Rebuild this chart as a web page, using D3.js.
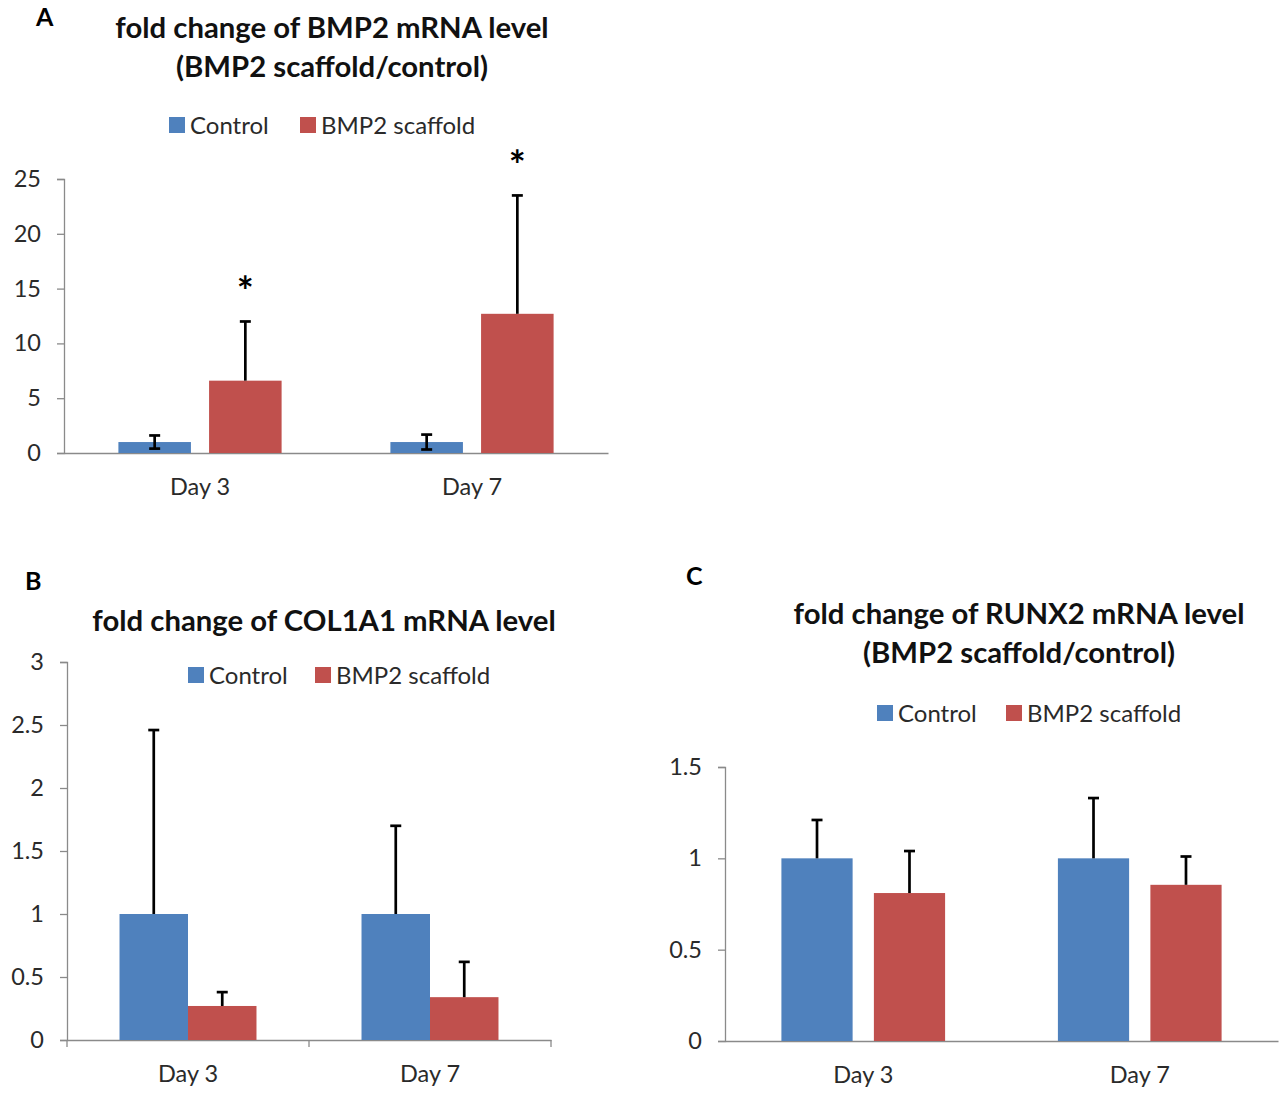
<!DOCTYPE html>
<html><head><meta charset="utf-8">
<script src="https://cdn.jsdelivr.net/npm/d3@7"></script>
<style>
html,body{margin:0;padding:0;background:#fff;}
svg{display:block;}
text{font-family:Lato,"Open Sans",sans-serif;}
</style></head>
<body>
<script>
// ---- data ----
const categories = ["Day 3", "Day 7"];
const seriesNames = ["Control", "BMP2 scaffold"];
const seriesColors = ["#4F81BD", "#C0504D"];

const bmp2Control = [1.0, 1.0];
const bmp2ControlErr = [0.6, 0.68];
const bmp2Scaffold = [6.6, 12.7];
const bmp2ScaffoldErr = [5.4, 10.8];
const bmp2Ticks = [0, 5, 10, 15, 20, 25];
const bmp2Significant = [true, true];

const col1a1Control = [1.0, 1.0];
const col1a1ControlErr = [1.46, 0.7];
const col1a1Scaffold = [0.27, 0.34];
const col1a1ScaffoldErr = [0.11, 0.28];
const col1a1Ticks = [0, 0.5, 1, 1.5, 2, 2.5, 3];

const runx2Control = [1.0, 1.0];
const runx2ControlErr = [0.21, 0.33];
const runx2Scaffold = [0.81, 0.855];
const runx2ScaffoldErr = [0.23, 0.155];
const runx2Ticks = [0, 0.5, 1, 1.5];

const W = 1281, H = 1093;
const svg = d3.select("body").append("svg").attr("width", W).attr("height", H);

function panel(cfg) {
  const g = svg.append("g");
  const x0 = d3.scaleBand().domain(categories).range([cfg.left, cfg.right])
    .paddingInner(cfg.outerPad * 2).paddingOuter(cfg.outerPad);
  const x1 = d3.scaleBand().domain(seriesNames).range([0, x0.bandwidth()]).paddingInner(cfg.innerPad);
  const y = d3.scaleLinear().domain([0, d3.max(cfg.ticks)]).range([cfg.bottom, cfg.top]);

  // y axis
  const ya = g.append("g").attr("transform", `translate(${cfg.left},0)`)
    .call(d3.axisLeft(y).tickValues(cfg.ticks).tickSize(7).tickPadding(16).tickFormat(d3.format("")));
  ya.select(".domain").attr("stroke", "#8a8a8a").attr("stroke-width", 1.3);
  ya.selectAll(".tick line").attr("stroke", "#8a8a8a").attr("stroke-width", 1.3);
  ya.selectAll(".tick text").attr("font-size", 23.5).attr("fill", "#2a2a2a").attr("font-family", "Lato");

  // x axis
  const xa = g.append("g").attr("transform", `translate(0,${cfg.bottom})`)
    .call(d3.axisBottom(x0).tickSize(0).tickPadding(25).tickSizeOuter(0));
  xa.select(".domain").attr("stroke", "#8a8a8a").attr("stroke-width", 1.3);
  xa.selectAll(".tick text").attr("font-size", 23.5).attr("fill", "#2a2a2a").attr("font-family", "Lato");
  if (cfg.xTicks) {
    const bounds = [cfg.left, (cfg.left + cfg.right) / 2, cfg.right];
    g.selectAll(".xt").data(bounds).join("line")
      .attr("x1", d => d).attr("x2", d => d)
      .attr("y1", cfg.bottom).attr("y2", cfg.bottom + 7)
      .attr("stroke", "#8a8a8a").attr("stroke-width", 1.3);
  }

  const rows = [];
  categories.forEach((c, i) => {
    seriesNames.forEach((s, j) => {
      rows.push({cat: c, ser: s, j, v: cfg.values[j][i], e: cfg.errs[j][i], sym: cfg.symmetric && cfg.symmetric[j]});
    });
  });

  g.selectAll(".bar").data(rows).join("rect")
    .attr("x", d => x0(d.cat) + x1(d.ser))
    .attr("width", x1.bandwidth())
    .attr("y", d => y(d.v))
    .attr("height", d => y(0) - y(d.v))
    .attr("fill", d => seriesColors[d.j]);

  // error bars
  const cap = 5.5;
  rows.forEach(d => {
    const cx = x0(d.cat) + x1(d.ser) + x1.bandwidth() / 2;
    const lo = d.sym ? d.v - d.e : d.v;
    g.append("line").attr("x1", cx).attr("x2", cx).attr("y1", y(lo)).attr("y2", y(d.v + d.e))
      .attr("stroke", "#000").attr("stroke-width", 2.7);
    g.append("line").attr("x1", cx - cap).attr("x2", cx + cap).attr("y1", y(d.v + d.e)).attr("y2", y(d.v + d.e))
      .attr("stroke", "#000").attr("stroke-width", 2.7);
    if (d.sym) {
      g.append("line").attr("x1", cx - cap).attr("x2", cx + cap).attr("y1", y(lo)).attr("y2", y(lo))
        .attr("stroke", "#000").attr("stroke-width", 2.7);
    }
  });

  // significance stars
  if (cfg.sig) {
    rows.filter(d => d.j === 1 && cfg.sig[categories.indexOf(d.cat)]).forEach(d => {
      const cx = x0(d.cat) + x1(d.ser) + x1.bandwidth() / 2;
      g.append("text").attr("x", cx).attr("y", y(d.v + d.e) - 15.5)
        .attr("text-anchor", "middle").attr("font-size", 40).attr("font-family", "Lato")
        .attr("font-weight", "bold").attr("fill", "#000").text("*");
    });
  }

  // title
  cfg.title.forEach((t, k) => {
    g.append("text").attr("x", cfg.titleX).attr("y", cfg.titleY + k * 39)
      .attr("text-anchor", "middle").attr("font-size", 29.3).attr("font-weight", "bold")
      .attr("fill", "#111").text(t);
  });

  // panel letter
  g.append("text").attr("x", cfg.letterX).attr("y", cfg.letterY)
    .attr("font-family", "Liberation Sans").attr("font-weight", "bold").attr("font-size", 25)
    .attr("fill", "#000").text(cfg.letter);

  // legend
  const lg = g.append("g").attr("transform", `translate(${cfg.legendX},${cfg.legendY})`);
  let offs = [0, cfg.legendGap];
  seriesNames.forEach((s, j) => {
    lg.append("rect").attr("x", offs[j]).attr("y", -8).attr("width", 16).attr("height", 16)
      .attr("fill", seriesColors[j]);
    lg.append("text").attr("x", offs[j] + 21).attr("y", 8.5).attr("font-size", 24)
      .attr("fill", "#2a2a2a").text(s);
  });
}

panel({
  left: 64, right: 608, top: 179, bottom: 453, ticks: bmp2Ticks,
  outerPad: 0.2, innerPad: 0.2,
  values: [bmp2Control, bmp2Scaffold], errs: [bmp2ControlErr, bmp2ScaffoldErr],
  symmetric: [true, false], sig: bmp2Significant,
  title: ["fold change of BMP2 mRNA level", "(BMP2 scaffold/control)"], titleX: 332, titleY: 38,
  letter: "A", letterX: 36, letterY: 26,
  legendX: 169, legendY: 125, legendGap: 131
});

panel({
  left: 67, right: 551, top: 662, bottom: 1040, ticks: col1a1Ticks,
  outerPad: 0.217, innerPad: 0, xTicks: true,
  values: [col1a1Control, col1a1Scaffold], errs: [col1a1ControlErr, col1a1ScaffoldErr],
  title: ["fold change of COL1A1 mRNA level"], titleX: 324, titleY: 631,
  letter: "B", letterX: 25, letterY: 590,
  legendX: 188, legendY: 675, legendGap: 127
});

panel({
  left: 725, right: 1278, top: 767, bottom: 1041, ticks: runx2Ticks,
  outerPad: 0.204, innerPad: 0.23,
  values: [runx2Control, runx2Scaffold], errs: [runx2ControlErr, runx2ScaffoldErr],
  title: ["fold change of RUNX2 mRNA level", "(BMP2 scaffold/control)"], titleX: 1019, titleY: 624,
  letter: "C", letterX: 686, letterY: 585,
  legendX: 877, legendY: 713, legendGap: 129
});
</script>
</body></html>
